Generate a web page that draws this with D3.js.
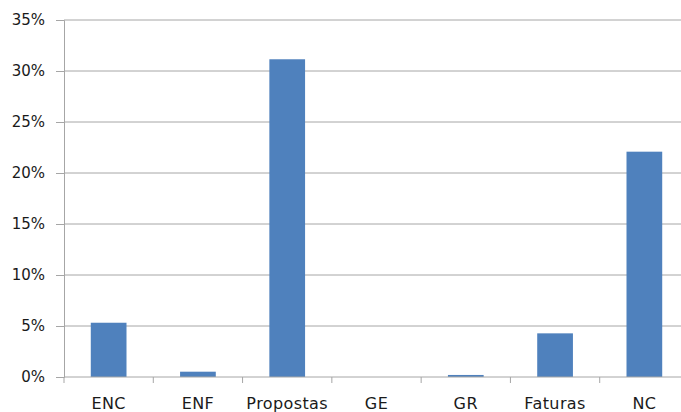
<!DOCTYPE html>
<html>
<head>
<meta charset="utf-8">
<script src="https://cdn.jsdelivr.net/npm/d3@7"></script>
<style>
  body { margin: 0; background: #fff; }
  svg { display: block; }
</style>
</head>
<body>
<svg width="681" height="412"></svg>
<script>
let categories = ["ENC", "ENF", "Propostas", "GE", "GR", "Faturas", "NC"];
let values = [0.0532, 0.0052, 0.3115, 0, 0.002, 0.0428, 0.2209];
let yTicks = [0, 0.05, 0.10, 0.15, 0.20, 0.25, 0.30, 0.35];

let barColor = "#4f81bd";
let gridColor = "#a6a6a6";

let svg = d3.select("svg");
let plotLeft = 64, plotRight = 689, plotTop = 20, plotBottom = 377;

let x = d3.scaleBand().domain(categories).range([plotLeft, plotRight]).paddingInner(0.6).paddingOuter(0.3);
let y = d3.scaleLinear().domain([0, 0.35]).range([plotBottom, plotTop]);

// horizontal gridlines
svg.selectAll("line.grid").data(yTicks.slice(1)).enter().append("line")
  .attr("class", "grid")
  .attr("x1", plotLeft).attr("x2", plotRight)
  .attr("y1", d => y(d)).attr("y2", d => y(d))
  .attr("stroke", gridColor).attr("stroke-width", 1);

// bars
svg.selectAll("rect").data(values).enter().append("rect")
  .attr("x", (d, i) => x(categories[i]))
  .attr("y", d => y(d))
  .attr("width", x.bandwidth())
  .attr("height", d => plotBottom - y(d))
  .attr("fill", barColor);

// y axis
let yAxis = d3.axisLeft(y).tickValues(yTicks).tickFormat(d3.format(".0%")).tickSize(8).tickPadding(11);
let gy = svg.append("g").attr("transform", "translate(" + plotLeft + ",0)").call(yAxis);
gy.select(".domain").attr("stroke", gridColor);
gy.selectAll(".tick line").attr("stroke", gridColor);
gy.selectAll("text")
  .attr("font-family", "DejaVu Sans, sans-serif")
  .attr("font-size", 15)
  .attr("fill", "#1a1a1a");

// x axis: ticks sit on the category boundaries
let step = x.step();
let boundaries = d3.range(categories.length + 1).map(i => plotLeft + i * step);
let gx = svg.append("g");
gx.append("line").attr("x1", plotLeft).attr("x2", plotRight).attr("y1", plotBottom).attr("y2", plotBottom)
  .attr("stroke", gridColor);
gx.selectAll("line.tick").data(boundaries).enter().append("line")
  .attr("class", "tick")
  .attr("x1", d => d).attr("x2", d => d)
  .attr("y1", plotBottom).attr("y2", plotBottom + 6)
  .attr("stroke", gridColor);
gx.selectAll("text").data(categories).enter().append("text")
  .attr("x", d => x(d) + x.bandwidth() / 2)
  .attr("y", 409)
  .attr("text-anchor", "middle")
  .attr("font-family", "DejaVu Sans, sans-serif")
  .attr("font-size", 16)
  .attr("letter-spacing", 0.4)
  .attr("fill", "#1a1a1a")
  .text(d => d);
</script>
</body>
</html>
